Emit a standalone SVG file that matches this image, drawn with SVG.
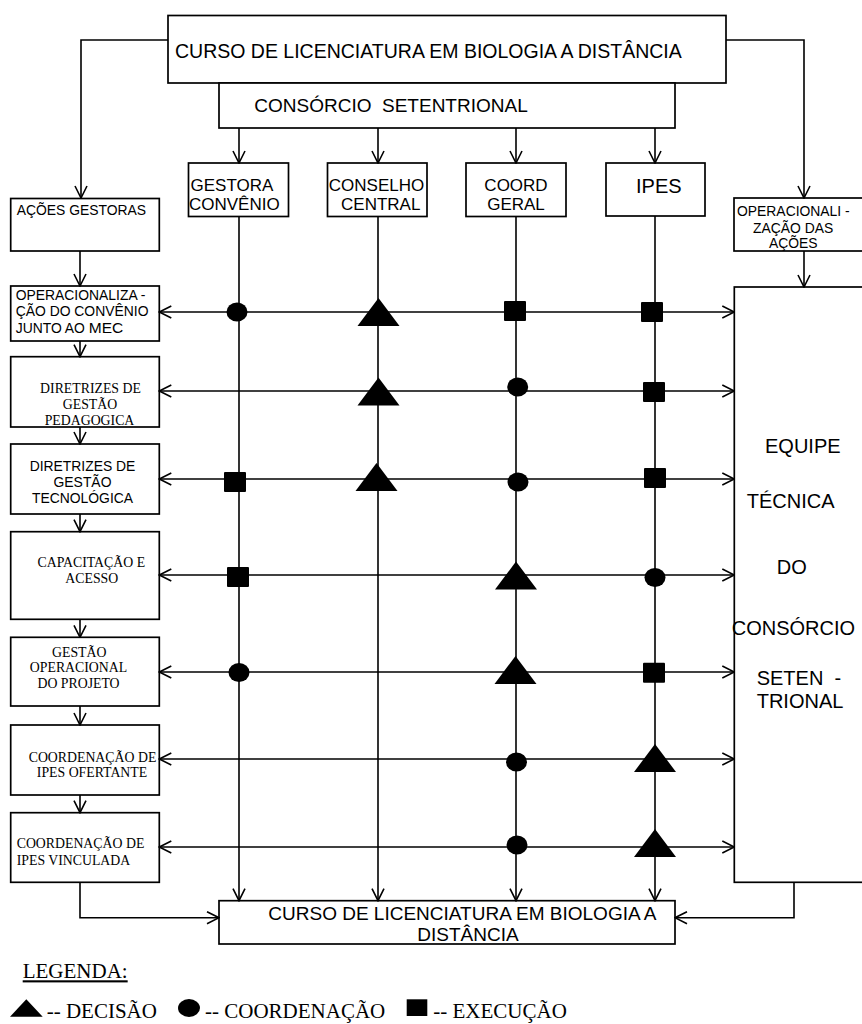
<svg xmlns="http://www.w3.org/2000/svg" width="862" height="1024" viewBox="0 0 862 1024">
<style>
.box{fill:#fff;stroke:#000;stroke-width:1.7}
.ln{fill:none;stroke:#000;stroke-width:1.6}
.s{font-family:"Liberation Sans",Arial,sans-serif;fill:#000}
.r{font-family:"Liberation Serif","Times New Roman",serif;fill:#000}
.m{text-anchor:middle}
.f14{font-size:13.9px}
.t14{font-size:13.8px}
.h{font-size:17px}
.big{font-size:19.5px}
.eq{font-size:20px}
.lg{font-size:21px}
</style>
<defs>
<marker id="ah" viewBox="0 0 14 14" refX="13" refY="7" markerWidth="14" markerHeight="14" orient="auto-start-reverse" markerUnits="userSpaceOnUse">
<path d="M1,1 L13,7 L1,13" fill="none" stroke="#000" stroke-width="1.6"/>
</marker>
<polygon id="tri" points="0,-14 21,14 -21,14" fill="#000"/>
<ellipse id="dot" cx="0" cy="0" rx="10.5" ry="9.5" fill="#000"/>
<rect id="sq" x="-11" y="-10" width="22" height="20" rx="1" fill="#000"/>
</defs>
<rect width="862" height="1024" fill="#fff"/>

<g id="curso-top">
<rect class="box" x="168" y="15.5" width="558" height="67.5"/>
<text class="s big" x="175" y="57.5">CURSO DE LICENCIATURA EM BIOLOGIA A DISTÂNCIA</text>
</g>
<g id="consorcio">
<rect class="box" x="219" y="83" width="456" height="45"/>
<text class="s" style="font-size:19px" x="254.3" y="111.5" xml:space="preserve">CONSÓRCIO  SETENTRIONAL</text>
</g>

<g id="gestora">
<rect class="box" x="188.5" y="163" width="100" height="53.5"/>
<text class="s h" x="190.5" y="191">GESTORA</text>
<text class="s h" x="189" y="210">CONVÊNIO</text>
</g>
<g id="conselho">
<rect class="box" x="327.5" y="163" width="99.5" height="53.5"/>
<text class="s h" x="328.8" y="191">CONSELHO</text>
<text class="s h m" x="380.7" y="210">CENTRAL</text>
</g>
<g id="coord">
<rect class="box" x="466" y="163" width="100" height="53.5"/>
<text class="s h m" x="516" y="191">COORD</text>
<text class="s h m" x="516" y="210">GERAL</text>
</g>
<g id="ipes">
<rect class="box" x="606" y="163" width="99" height="53"/>
<text class="s eq" x="636" y="192.7">IPES</text>
</g>

<g id="acoes-gestoras">
<rect class="box" x="10.7" y="198.5" width="148.6" height="52.5"/>
<text class="s f14" x="16.7" y="215">AÇÕES GESTORAS</text>
</g>
<g id="operacionaliza-convenio">
<rect class="box" x="10.7" y="286" width="148.6" height="55"/>
<text class="s f14" x="15.7" y="300">OPERACIONALIZA -</text>
<text class="s f14" x="15.7" y="316">ÇÃO DO CONVÊNIO</text>
<text class="s f14" x="15.7" y="332.7">JUNTO AO <tspan style="font-size:15.5px">MEC</tspan></text>
</g>
<g id="diretrizes-pedagogica">
<rect class="box" x="10.7" y="356.7" width="148.6" height="70.3"/>
<text class="r t14 m" x="90.5" y="393.3">DIRETRIZES DE</text>
<text class="r t14 m" x="90" y="409.3">GESTÃO</text>
<text class="r t14 m" x="89.5" y="425">PEDAGOGICA</text>
</g>
<g id="diretrizes-tecnologica">
<rect class="box" x="10.7" y="444" width="148.6" height="70"/>
<text class="s f14 m" x="82.5" y="470.7">DIRETRIZES DE</text>
<text class="s f14 m" x="82.5" y="486.7">GESTÃO</text>
<text class="s f14 m" x="82.5" y="503">TECNOLÓGICA</text>
</g>
<g id="capacitacao">
<rect class="box" x="10.7" y="531.7" width="148.6" height="87.6"/>
<text class="r t14 m" x="91.3" y="567.3">CAPACITAÇÃO E</text>
<text class="r t14 m" x="91.8" y="583.3">ACESSO</text>
</g>
<g id="gestao-operacional">
<rect class="box" x="10.7" y="637.3" width="148.6" height="68.7"/>
<text class="r t14 m" x="79.2" y="656.7">GESTÃO</text>
<text class="r t14 m" x="78.5" y="671.7">OPERACIONAL</text>
<text class="r t14 m" x="78.5" y="688.3">DO PROJETO</text>
</g>
<g id="coord-ofertante">
<rect class="box" x="10.7" y="725" width="148.6" height="70"/>
<text class="r t14 m" x="92.5" y="761.7">COORDENAÇÃO DE</text>
<text class="r t14 m" x="92" y="776.7">IPES OFERTANTE</text>
</g>
<g id="coord-vinculada">
<rect class="box" x="10.7" y="812.7" width="148.6" height="69.6"/>
<text class="r t14" x="16.7" y="848.3">COORDENAÇÃO DE</text>
<text class="r t14" x="16.7" y="865">IPES VINCULADA</text>
</g>

<g id="operacionalizacao-acoes">
<rect class="box" x="734" y="198" width="140" height="53"/>
<text class="s f14" x="737" y="216">OPERACIONALI -</text>
<text class="s f14" x="753" y="233">ZAÇÃO DAS</text>
<text class="s f14" x="769" y="248">AÇÕES</text>
</g>
<g id="equipe-tecnica">
<rect class="box" x="734.3" y="287" width="140" height="595.3"/>
<text class="s eq" x="765" y="452.7">EQUIPE</text>
<text class="s eq" x="746.7" y="508.3">TÉCNICA</text>
<text class="s eq" x="776.7" y="574.3">DO</text>
<text class="s eq" x="731.7" y="635">CONSÓRCIO</text>
<text class="s eq" x="756.7" y="685" xml:space="preserve">SETEN  -</text>
<text class="s eq" x="756.7" y="708.3">TRIONAL</text>
</g>

<g id="curso-bottom">
<rect class="box" x="219" y="900.7" width="456" height="43.3"/>
<text class="s" style="font-size:19px" x="268.3" y="920">CURSO DE LICENCIATURA EM BIOLOGIA A</text>
<text class="s" style="font-size:19px" x="417.3" y="940.7">DISTÂNCIA</text>
</g>

<g id="connectors">
<polyline class="ln" points="168,40 81,40 81,198" marker-end="url(#ah)"/>
<polyline class="ln" points="726,40 804,40 804,198" marker-end="url(#ah)"/>
<line class="ln" x1="239" y1="128" x2="239" y2="163" marker-end="url(#ah)"/>
<line class="ln" x1="378" y1="128" x2="378" y2="163" marker-end="url(#ah)"/>
<line class="ln" x1="516" y1="128" x2="516" y2="163" marker-end="url(#ah)"/>
<line class="ln" x1="655" y1="128" x2="655" y2="163" marker-end="url(#ah)"/>
<line class="ln" x1="239" y1="216.5" x2="239" y2="900.7" marker-end="url(#ah)"/>
<line class="ln" x1="378" y1="216.5" x2="378" y2="900.7" marker-end="url(#ah)"/>
<line class="ln" x1="516" y1="216.5" x2="516" y2="900.7" marker-end="url(#ah)"/>
<line class="ln" x1="655" y1="216" x2="655" y2="900.7" marker-end="url(#ah)"/>
<line class="ln" x1="80" y1="251" x2="80" y2="286" marker-end="url(#ah)"/>
<line class="ln" x1="80" y1="341" x2="80" y2="356.7" marker-end="url(#ah)"/>
<line class="ln" x1="80" y1="427" x2="80" y2="444" marker-end="url(#ah)"/>
<line class="ln" x1="80" y1="514" x2="80" y2="531.7" marker-end="url(#ah)"/>
<line class="ln" x1="80" y1="619.3" x2="80" y2="637.3" marker-end="url(#ah)"/>
<line class="ln" x1="80" y1="706" x2="80" y2="725" marker-end="url(#ah)"/>
<line class="ln" x1="80" y1="795" x2="80" y2="812.7" marker-end="url(#ah)"/>
<line class="ln" x1="804" y1="251" x2="804" y2="287" marker-end="url(#ah)"/>
<line class="ln" x1="159.3" y1="312" x2="734.3" y2="312" marker-start="url(#ah)" marker-end="url(#ah)"/>
<line class="ln" x1="159.3" y1="391" x2="734.3" y2="391" marker-start="url(#ah)" marker-end="url(#ah)"/>
<line class="ln" x1="159.3" y1="479" x2="734.3" y2="479" marker-start="url(#ah)" marker-end="url(#ah)"/>
<line class="ln" x1="159.3" y1="575" x2="734.3" y2="575" marker-start="url(#ah)" marker-end="url(#ah)"/>
<line class="ln" x1="159.3" y1="672" x2="734.3" y2="672" marker-start="url(#ah)" marker-end="url(#ah)"/>
<line class="ln" x1="159.3" y1="759" x2="734.3" y2="759" marker-start="url(#ah)" marker-end="url(#ah)"/>
<line class="ln" x1="159.3" y1="847" x2="734.3" y2="847" marker-start="url(#ah)" marker-end="url(#ah)"/>
<polyline class="ln" points="80,882.3 80,917.7 219,917.7" marker-end="url(#ah)"/>
<polyline class="ln" points="794,882.3 794,917.7 675,917.7" marker-end="url(#ah)"/>
</g>

<g id="markers-grid">
<use href="#dot" x="237" y="312"/>
<use href="#tri" x="378.5" y="312"/>
<use href="#sq" x="515" y="311"/>
<use href="#sq" x="652" y="312"/>
<use href="#tri" x="378.5" y="391.5"/>
<use href="#dot" x="517.7" y="387"/>
<use href="#sq" x="654" y="392"/>
<use href="#sq" x="235" y="482"/>
<use href="#tri" x="376.5" y="477"/>
<use href="#dot" x="518" y="482"/>
<use href="#sq" x="655" y="478"/>
<use href="#sq" x="238" y="577"/>
<use href="#tri" x="516" y="575.5"/>
<use href="#dot" x="655" y="577.5"/>
<use href="#dot" x="239" y="672.5"/>
<use href="#tri" x="515.5" y="670"/>
<use href="#sq" x="654" y="672.7"/>
<use href="#dot" x="516.5" y="762"/>
<use href="#tri" x="655" y="758"/>
<use href="#dot" x="517" y="845"/>
<use href="#tri" x="655" y="843"/>
</g>

<g id="legend">
<text class="r lg" x="22.7" y="978.3" text-decoration="underline">LEGENDA:</text>
<polygon points="10,1016.7 42.7,1016.7 26.3,999.3" fill="#000"/>
<text class="r lg" x="46.7" y="1018.3">-- DECISÃO</text>
<ellipse cx="189" cy="1008" rx="11" ry="9" fill="#000"/>
<text class="r lg" x="205" y="1018.3">-- COORDENAÇÃO</text>
<rect x="406.7" y="999.3" width="20.6" height="16.7" fill="#000"/>
<text class="r lg" x="433.3" y="1018.3">-- EXECUÇÃO</text>
</g>
</svg>
